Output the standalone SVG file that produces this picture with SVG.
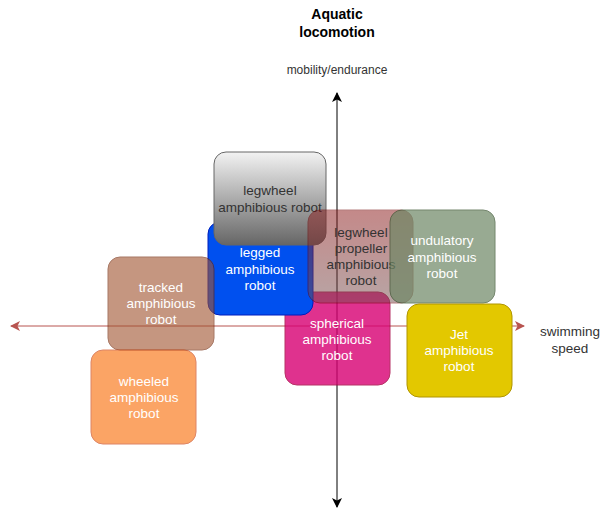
<svg xmlns="http://www.w3.org/2000/svg" width="601" height="516" viewBox="0 0 601 516">
<style>
text{font-family:"Liberation Sans",Arial,sans-serif;font-size:13.5px;text-anchor:middle}
.w{fill:#ffffff}
.d{fill:#333333}
.title{font-size:14px;font-weight:bold;fill:#000}
.lbl{fill:#333333}
</style>
<defs>
<linearGradient id="gGray" x1="0" y1="0" x2="0" y2="1">
<stop offset="0" stop-color="#f2f2f2"/>
<stop offset="1" stop-color="#666666"/>
</linearGradient>
<linearGradient id="gProp" x1="0" y1="0" x2="0" y2="1">
<stop offset="0" stop-color="#8a1515"/>
<stop offset="1" stop-color="#744c4c"/>
</linearGradient>
<marker id="aRed" viewBox="0 0 10 10" refX="9" refY="5" markerWidth="10" markerHeight="10" markerUnits="userSpaceOnUse" orient="auto-start-reverse">
<path d="M0,0 L10,5 L0,10 L2.5,5 Z" fill="#b85450"/>
</marker>
<marker id="aBlk" viewBox="0 0 10 10" refX="9" refY="5" markerWidth="10" markerHeight="10" markerUnits="userSpaceOnUse" orient="auto-start-reverse">
<path d="M0,0 L10,5 L0,10 L2.5,5 Z" fill="#000000"/>
</marker>
</defs>
<rect width="601" height="516" fill="#ffffff"/>
<g id="labels">
<text class="title" x="337" y="19">Aquatic</text>
<text class="title" x="337" y="37">locomotion</text>
<text class="lbl" x="337" y="74" style="font-size:12px">mobility/endurance</text>
<text class="lbl" x="570" y="336">swimming</text>
<text class="lbl" x="570" y="353">speed</text>
</g>
<g id="connectors">
<line x1="337" y1="507" x2="337" y2="93" stroke="#000" stroke-width="1" marker-start="url(#aBlk)" marker-end="url(#aBlk)"/>
<line x1="11" y1="326" x2="524" y2="326" stroke="#b85450" stroke-width="1" marker-start="url(#aRed)" marker-end="url(#aRed)"/>
</g>
<g id="spherical">
<rect x="285" y="292" width="105" height="93" rx="12" fill="#d80073" stroke="#a50040" opacity="0.8"/>
<text class="w" x="337" y="328">spherical</text>
<text class="w" x="337" y="344">amphibious</text>
<text class="w" x="337" y="360">robot</text>
</g>
<g id="legged">
<rect x="208" y="222" width="105" height="93" rx="12" fill="#0050ef" stroke="#001dbc"/>
<text class="w" x="260" y="257">legged</text>
<text class="w" x="260" y="274">amphibious</text>
<text class="w" x="260" y="290">robot</text>
</g>
<g id="legwheel">
<rect x="214" y="152" width="112" height="93" rx="12" fill="url(#gGray)" stroke="#666666"/>
<text class="d" x="270" y="195">legwheel</text>
<text class="d" x="270" y="212">amphibious robot</text>
</g>
<g id="tracked">
<rect x="108" y="257" width="106" height="93" rx="12" fill="#a0522d" stroke="#6d1f00" opacity="0.6"/>
<text class="w" x="161" y="292">tracked</text>
<text class="w" x="161" y="308">amphibious</text>
<text class="w" x="161" y="324">robot</text>
</g>
<g id="wheeled">
<rect x="91" y="350" width="105" height="94" rx="12" fill="#fa6800" stroke="#c73500" opacity="0.6"/>
<text class="w" x="144" y="386">wheeled</text>
<text class="w" x="144" y="402">amphibious</text>
<text class="w" x="144" y="418">robot</text>
</g>
<g id="legwheel-propeller">
<rect x="308" y="210" width="105" height="93" rx="12" fill="url(#gProp)" stroke="#6f0000" opacity="0.5"/>
<text class="d" x="361" y="237">legwheel</text>
<text class="d" x="361" y="253">propeller</text>
<text class="d" x="361" y="269">amphibious</text>
<text class="d" x="361" y="285">robot</text>
</g>
<g id="undulatory">
<rect x="390" y="210" width="105" height="93" rx="12" fill="#6d8764" stroke="#3a5431" opacity="0.7"/>
<text class="w" x="442" y="245">undulatory</text>
<text class="w" x="442" y="262">amphibious</text>
<text class="w" x="442" y="278">robot</text>
</g>
<g id="jet">
<rect x="407" y="304" width="105" height="93" rx="12" fill="#e3c800" stroke="#b09500"/>
<text class="w" x="459" y="339">Jet</text>
<text class="w" x="459" y="355">amphibious</text>
<text class="w" x="459" y="371">robot</text>
</g>
</svg>
